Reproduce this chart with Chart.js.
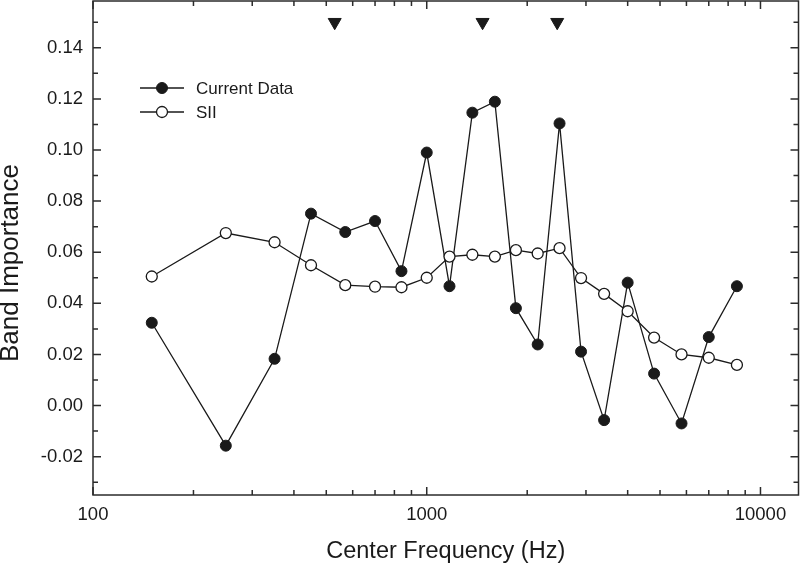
<!DOCTYPE html>
<html>
<head>
<meta charset="utf-8">
<script src="https://cdn.jsdelivr.net/npm/chart.js@4/dist/chart.umd.min.js"></script>
<style>
  html, body { margin: 0; padding: 0; background: #ffffff; }
  #wrap { width: 800px; height: 571px; }
</style>
</head>
<body>
<div id="wrap"><canvas id="c" width="800" height="571"></canvas></div>
<script>
// ---- Data ----
const freqs = [150, 250, 350, 450, 570, 700, 840, 1000, 1170, 1370, 1600, 1850, 2150, 2500, 2900, 3400, 4000, 4800, 5800, 7000, 8500];
const currentData = [0.0324, -0.0157, 0.0183, 0.0751, 0.0679, 0.0722, 0.0526, 0.0990, 0.0467, 0.1146, 0.1189, 0.0381, 0.0239, 0.1104, 0.0211, -0.0057, 0.0481, 0.0125, -0.0070, 0.0268, 0.0467];
const siiData = [0.0505, 0.0675, 0.0639, 0.0549, 0.0471, 0.0465, 0.0463, 0.0500, 0.0583, 0.0590, 0.0583, 0.0608, 0.0595, 0.0616, 0.0499, 0.0437, 0.0369, 0.0266, 0.0200, 0.0187, 0.0159];
const markerFreqs = [530, 1470, 2460];
const markerLevels = [0.15, 0.15, 0.15];
const seriesNames = ['Current Data', 'SII'];
const xTickValues = [100, 200, 300, 400, 500, 600, 700, 800, 900, 1000, 2000, 3000, 4000, 5000, 6000, 7000, 8000, 9000, 10000];
const xMajorTicks = [100, 1000, 10000];
const yTickValues = [-0.03, -0.02, -0.01, 0.00, 0.01, 0.02, 0.03, 0.04, 0.05, 0.06, 0.07, 0.08, 0.09, 0.10, 0.11, 0.12, 0.13, 0.14, 0.15];
const yLabelTicks = [-0.02, 0.00, 0.02, 0.04, 0.06, 0.08, 0.10, 0.12, 0.14];
const xTitle = 'Center Frequency (Hz)';
const yTitle = 'Band Importance';

const FONT = "'Liberation Sans', Arial, Helvetica, sans-serif";
const INK = '#1a1a1a';
const AXIS = '#2b2b2b';

const isMajorX = v => xMajorTicks.some(m => Math.abs(m - v) < 1e-6);
const isLabelY = v => yLabelTicks.some(m => Math.abs(m - v) < 1e-9);

// Frame + inward ticks on all four sides, placed through the scales
const frameTicks = {
  id: 'frameTicks',
  beforeDatasetsDraw(chart) {
    const { ctx, chartArea: a, scales } = chart;
    ctx.save();
    ctx.strokeStyle = AXIS;
    ctx.lineWidth = 1.5;
    ctx.strokeRect(a.left, a.top, a.right - a.left, a.bottom - a.top);
    ctx.beginPath();
    xTickValues.forEach(v => {
      const px = scales.x.getPixelForValue(v);
      const len = isMajorX(v) ? 8 : 5;
      ctx.moveTo(px, a.bottom); ctx.lineTo(px, a.bottom - len);
      ctx.moveTo(px, a.top); ctx.lineTo(px, a.top + len);
    });
    yTickValues.forEach(v => {
      const py = scales.y.getPixelForValue(v);
      const len = isLabelY(v) ? 8 : 5;
      ctx.moveTo(a.left, py); ctx.lineTo(a.left + len, py);
      ctx.moveTo(a.right, py); ctx.lineTo(a.right - len, py);
    });
    ctx.stroke();
    ctx.restore();
  }
};

// Y-axis title (vertical text) and legend drawn inside the plot
const textOverlay = {
  id: 'textOverlay',
  afterDraw(chart) {
    const { ctx, chartArea: a } = chart;
    const ds = chart.data.datasets;
    ctx.save();
    // y title
    ctx.save();
    ctx.translate(11, a.top + 262);
    ctx.rotate(-Math.PI / 2);
    ctx.fillStyle = INK;
    ctx.font = "26px " + FONT;
    ctx.textAlign = 'center';
    ctx.textBaseline = 'middle';
    ctx.fillText(yTitle, 0, 0);
    ctx.restore();
    // legend
    [0, 1].forEach(i => {
      const d = ds[i];
      const y = a.top + 87 + i * 24;
      const x0 = a.left + 47, x1 = a.left + 91, xm = (x0 + x1) / 2;
      ctx.strokeStyle = d.borderColor;
      ctx.lineWidth = d.borderWidth;
      ctx.beginPath(); ctx.moveTo(x0, y); ctx.lineTo(x1, y); ctx.stroke();
      ctx.beginPath();
      ctx.arc(xm, y, d.pointRadius, 0, Math.PI * 2);
      ctx.fillStyle = d.pointBackgroundColor;
      ctx.fill();
      ctx.lineWidth = d.pointBorderWidth;
      ctx.strokeStyle = d.pointBorderColor;
      ctx.stroke();
      ctx.fillStyle = INK;
      ctx.font = "17px " + FONT;
      ctx.textBaseline = 'middle';
      ctx.textAlign = 'left';
      ctx.fillText(d.label, a.left + 103, y + 1);
    });
    ctx.restore();
  }
};

const toXY = (xs, ys) => xs.map((x, i) => ({ x: x, y: ys[i] }));

new Chart(document.getElementById('c'), {
  type: 'line',
  data: {
    datasets: [
      {
        label: seriesNames[0],
        data: toXY(freqs, currentData),
        borderColor: INK, borderWidth: 1.3,
        pointBackgroundColor: INK, pointBorderColor: INK, pointBorderWidth: 1,
        pointRadius: 5.5, pointHoverRadius: 5.5,
        tension: 0, order: 1
      },
      {
        label: seriesNames[1],
        data: toXY(freqs, siiData),
        borderColor: INK, borderWidth: 1.3,
        pointBackgroundColor: '#ffffff', pointBorderColor: INK, pointBorderWidth: 1.3,
        pointRadius: 5.5, pointHoverRadius: 5.5,
        tension: 0, order: 0
      },
      {
        label: 'markers',
        data: toXY(markerFreqs, markerLevels),
        showLine: false,
        pointStyle: 'triangle', rotation: 180,
        pointRadius: 7.5, pointHoverRadius: 7.5,
        pointBackgroundColor: INK, pointBorderColor: INK, pointBorderWidth: 1,
        order: 2
      }
    ]
  },
  options: {
    responsive: false,
    animation: false,
    events: [],
    layout: { autoPadding: false, padding: { top: 1, right: 1.5, left: 0, bottom: 0 } },
    plugins: { legend: { display: false }, tooltip: { enabled: false } },
    scales: {
      x: {
        type: 'logarithmic',
        position: 'bottom',
        min: 100, max: 13000,
        afterBuildTicks: s => { s.ticks = xTickValues.map(v => ({ value: v, major: isMajorX(v) })); },
        afterFit: s => { s.height = 76; s.paddingLeft = 0; s.paddingRight = 0; },
        grid: { display: false, drawTicks: false },
        border: { display: false },
        ticks: {
          autoSkip: false, maxRotation: 0, minRotation: 0, padding: 9,
          color: INK, font: { family: FONT, size: 18.5 },
          callback: v => isMajorX(v) ? String(v) : ''
        },
        title: {
          display: true, text: xTitle, color: INK,
          font: { family: FONT, size: 23.5 },
          padding: { top: 0, bottom: 5 }
        }
      },
      y: {
        type: 'linear',
        position: 'left',
        min: -0.035, max: 0.1583,
        afterBuildTicks: s => { s.ticks = yTickValues.map(v => ({ value: v })); },
        afterFit: s => { s.width = 93; s.paddingTop = 0; s.paddingBottom = 0; },
        grid: { display: false, drawTicks: false },
        border: { display: false },
        ticks: {
          autoSkip: false, padding: 10,
          color: INK, font: { family: FONT, size: 18.5 },
          callback: v => isLabelY(v) ? v.toFixed(2) : ''
        },
        title: { display: false }
      }
    }
  },
  plugins: [frameTicks, textOverlay]
});
</script>
</body>
</html>
